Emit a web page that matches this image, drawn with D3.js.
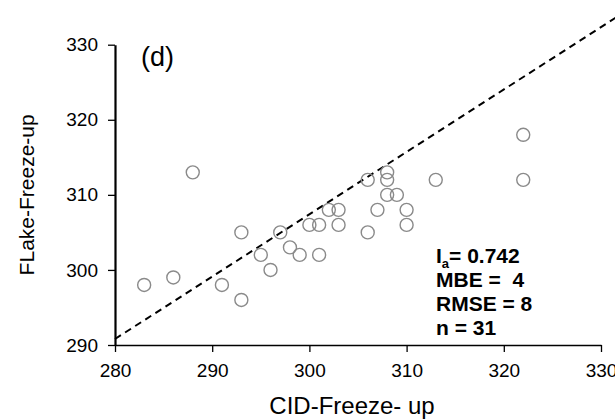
<!DOCTYPE html>
<html>

<head>
    <meta charset="UTF-8">
    <title>FLake vs CID freeze-up</title>
    <script src="https://d3js.org/d3.v7.min.js"></script>
    <style>
        body { margin: 0; background: #fff; }
        text { font-family: "Liberation Sans", Arial, sans-serif; }
    </style>
</head>

<body>

    <script>
        // observed (CID) vs simulated (FLake) freeze-up day of year
        var cidFreezeUp   = [283, 286, 288, 291, 293, 293, 295, 296, 297, 298, 299, 300, 301, 301, 302,
                             303, 303, 306, 306, 307, 308, 308, 308, 309, 310, 310, 313, 322, 322];
        var flakeFreezeUp = [298, 299, 313, 298, 305, 296, 302, 300, 305, 303, 302, 306, 306, 302, 308,
                             308, 306, 312, 305, 308, 313, 312, 310, 310, 308, 306, 312, 318, 312];

        // dashed reference line (data units)
        var refLineX = [280, 332];
        var refLineY = [290.8, 334];

        var xTicks = [280, 290, 300, 310, 320, 330];
        var yTicks = [290, 300, 310, 320, 330];

        var statsLines = ["MBE =  4", "RMSE = 8", "n = 31"];

        var width = 615, height = 420;
        // plot box in pixels (note: "top" is a reserved window prop, so use prefixed names)
        var plotLeft = 115, plotRight = 601, plotTop = 44.7, plotBottom = 345;

        var svg = d3.select("body").append("svg")
            .attr("width", width)
            .attr("height", height);

        var x = d3.scaleLinear().domain([280, 330]).range([plotLeft, plotRight]);
        var y = d3.scaleLinear().domain([290, 330]).range([plotBottom, plotTop]);

        // dashed line
        var line = d3.line()
            .x(function (d) { return x(d[0]) })
            .y(function (d) { return y(d[1]) });

        svg.append("path")
            .attr("d", line(d3.zip(refLineX, refLineY)))
            .attr("fill", "none")
            .attr("stroke", "#000")
            .attr("stroke-width", 2)
            .attr("stroke-dasharray", "7,5");

        // points
        svg.append("g").selectAll("circle")
            .data(d3.zip(cidFreezeUp, flakeFreezeUp))
            .enter().append("circle")
            .attr("cx", function (d) { return x(d[0]) })
            .attr("cy", function (d) { return y(d[1]) })
            .attr("r", 6.5)
            .attr("fill", "none")
            .attr("stroke", "#8a8a8a")
            .attr("stroke-width", 1.4);

        // axes
        var xAxis = svg.append("g")
            .attr("transform", "translate(0," + plotBottom + ")")
            .call(d3.axisBottom(x).tickValues(xTicks).tickSize(7).tickSizeOuter(0).tickPadding(12));

        var yAxis = svg.append("g")
            .attr("transform", "translate(" + plotLeft + ",0)")
            .call(d3.axisLeft(y).tickValues(yTicks).tickSize(7).tickSizeOuter(0).tickPadding(10));

        xAxis.select(".domain").attr("stroke-width", 1.6);
        yAxis.select(".domain").attr("stroke-width", 2.2);
        svg.selectAll(".tick line").attr("stroke-width", 1.3);
        svg.selectAll(".tick text")
            .attr("font-size", 19)
            .attr("font-family", "Liberation Sans, Arial, sans-serif")
            .attr("fill", "#000");

        // axis titles
        svg.append("text")
            .attr("x", 352)
            .attr("y", 414)
            .attr("text-anchor", "middle")
            .attr("font-size", 24)
            .text("CID-Freeze- up");

        svg.append("text")
            .attr("transform", "translate(34," + ((plotTop + plotBottom) / 2) + ") rotate(-90)")
            .attr("text-anchor", "middle")
            .attr("font-size", 21)
            .text("FLake-Freeze-up");

        // panel tag
        svg.append("text")
            .attr("x", 141)
            .attr("y", 66)
            .attr("font-size", 27)
            .text("(d)");

        // statistics
        var stats = svg.append("g")
            .attr("font-size", 21)
            .attr("font-weight", "bold");

        var ia = stats.append("text").attr("x", 436).attr("y", 263);
        ia.append("tspan").text("I");
        ia.append("tspan").attr("font-size", 13).attr("dy", 5).text("a");
        ia.append("tspan").attr("dy", -5).text("= 0.742");

        stats.selectAll(".stat")
            .data(statsLines)
            .enter().append("text")
            .attr("class", "stat")
            .attr("x", 436)
            .attr("y", function (d, i) { return 287 + i * 24 })
            .style("white-space", "pre")
            .text(function (d) { return d });
    </script>
</body>

</html>
